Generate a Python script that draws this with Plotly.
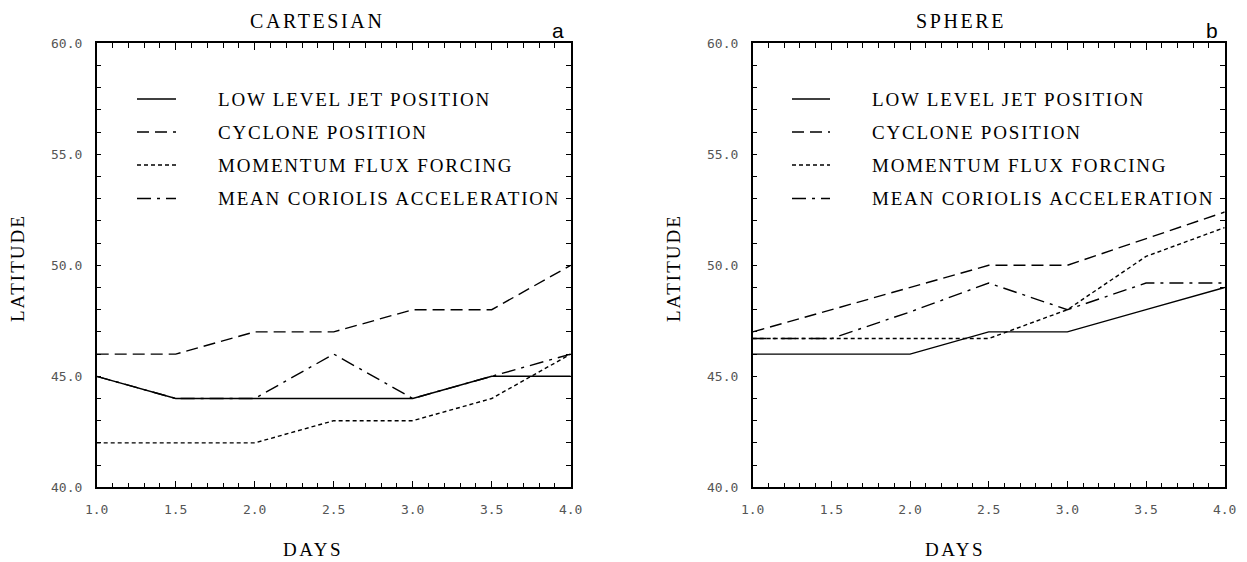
import plotly.graph_objects as go

# ---- data -------------------------------------------------------------
days = [1.0, 1.5, 2.0, 2.5, 3.0, 3.5, 4.0]

cart_jet = [45, 44, 44, 44, 44, 45, 45]
cart_cyclone = [46, 46, 47, 47, 48, 48, 50]
cart_momentum = [42, 42, 42, 43, 43, 44, 46]
cart_coriolis = [45, 44, 44, 46, 44, 45, 46]

sph_jet = [46, 46, 46, 47, 47, 48, 49]
sph_cyclone = [47, 48, 49, 50, 50, 51.2, 52.4]
sph_momentum = [46.7, 46.7, 46.7, 46.7, 48, 50.4, 51.7]
sph_coriolis = [46.7, 46.7, 47.9, 49.2, 48, 49.2, 49.2]

series_names = ["LOW LEVEL JET POSITION", "CYCLONE POSITION",
                "MOMENTUM FLUX FORCING", "MEAN CORIOLIS ACCELERATION"]
panel_titles = ["CARTESIAN", "SPHERE"]
panel_tags = ["a", "b"]
y_ticks = [40, 45, 50, 55, 60]
x_ticks = [1.0, 1.5, 2.0, 2.5, 3.0, 3.5, 4.0]

# ---- styling ----------------------------------------------------------
W, H = 1247, 562
dashes = ["solid", "12px,6px", "4px,3px", "14px,6px,3px,6px"]
SERIF = "Liberation Serif, Times New Roman, serif"


def fx(px):
    return px / W


def fy(py):
    return 1 - py / H


def spaced(s, track=1.8):
    return f'<span style="letter-spacing:{track}px">{s}</span>'


fig = go.Figure()

panels = [
    ("x", "y", [cart_jet, cart_cyclone, cart_momentum, cart_coriolis]),
    ("x2", "y2", [sph_jet, sph_cyclone, sph_momentum, sph_coriolis]),
]
for xa, ya, data in panels:
    for name, vals, dash in zip(series_names, data, dashes):
        fig.add_trace(go.Scatter(
            x=days, y=vals, xaxis=xa, yaxis=ya, mode="lines", name=name,
            line=dict(color="black", width=1.4, dash=dash),
            showlegend=False, hoverinfo="skip"))

axis_common = dict(
    showgrid=False, zeroline=False, showline=True, linecolor="black",
    linewidth=1.5, mirror="ticks", ticks="inside", tickcolor="black",
    tickwidth=1, fixedrange=True, automargin=False,
    tickfont=dict(family="DejaVu Sans Mono", size=13, color="#555"),
)

xdomains = [[fx(96.7), fx(570.7)], [fx(752.7), fx(1224.7)]]
ydomain = [fy(487.3), fy(43.3)]

for i, (xa, ya) in enumerate([("xaxis", "yaxis"), ("xaxis2", "yaxis2")]):
    anchor_x = "y" if i == 0 else "y2"
    anchor_y = "x" if i == 0 else "x2"
    fig.update_layout(**{
        xa: dict(axis_common, domain=xdomains[i], anchor=anchor_x,
                 range=[1.0, 4.0], tickvals=x_ticks,
                 ticktext=[f"{v:.1f}" for v in x_ticks],
                 ticklen=7, ticklabelstandoff=9,
                 minor=dict(dtick=0.1, tick0=1.0, ticks="inside", ticklen=5,
                            tickcolor="black", tickwidth=1)),
        ya: dict(axis_common, domain=ydomain, anchor=anchor_y,
                 range=[40, 60], tickvals=y_ticks,
                 ticktext=[f"{v:.1f}" for v in y_ticks],
                 ticklen=5, ticklabelstandoff=10,
                 minor=dict(dtick=1, tick0=40, ticks="inside", ticklen=5,
                            tickcolor="black", tickwidth=1)),
    })

annotations = []
shapes = []

# panel titles, corner tags and axis titles
title_center = [317.0, 961.0]
days_center = [313.0, 955.0]
tag_x = [557.5, 1212.0]
lat_x = [17.0, 673.0]
for i in range(2):
    annotations.append(dict(
        text=spaced(panel_titles[i], 2.6), x=fx(title_center[i]), y=fy(21),
        xref="paper", yref="paper", xanchor="center", yanchor="middle",
        showarrow=False, font=dict(family=SERIF, size=20, color="black")))
    annotations.append(dict(
        text=panel_tags[i], x=fx(tag_x[i]), y=fy(31),
        xref="paper", yref="paper", xanchor="center", yanchor="middle",
        showarrow=False,
        font=dict(family="Liberation Sans", size=21, color="black")))
    annotations.append(dict(
        text=spaced("DAYS", 2.5), x=fx(days_center[i]), y=fy(549),
        xref="paper", yref="paper", xanchor="center", yanchor="middle",
        borderpad=0, showarrow=False,
        font=dict(family=SERIF, size=19, color="black")))
    annotations.append(dict(
        text=spaced("LATITUDE", 2.0), x=fx(lat_x[i]), y=fy(268),
        xref="paper", yref="paper", xanchor="center", yanchor="middle",
        textangle=-90, showarrow=False,
        font=dict(family=SERIF, size=19, color="black")))

# legend keys inside each panel
legend_rows = [99, 132, 165, 198.5]
key_x = [(137, 176), (792, 830)]
label_x = [216, 870]
for i in range(2):
    for name, dash, row in zip(series_names, dashes, legend_rows):
        shapes.append(dict(
            type="line", xref="paper", yref="paper",
            x0=fx(key_x[i][0]), x1=fx(key_x[i][1]), y0=fy(row), y1=fy(row),
            line=dict(color="black", width=1.4, dash=dash)))
        annotations.append(dict(
            text=spaced(name), x=fx(label_x[i]), y=fy(row),
            xref="paper", yref="paper", xanchor="left", yanchor="middle",
            showarrow=False, font=dict(family=SERIF, size=19, color="black")))

fig.update_layout(
    width=W, height=H, margin=dict(l=0, r=0, t=0, b=0, autoexpand=False),
    paper_bgcolor="white", plot_bgcolor="white",
    annotations=annotations, shapes=shapes, showlegend=False,
)

# let the figure sit flush in the page
fig.write_html(
    "out.html", config={"displayModeBar": False},
    post_script="document.body.style.margin='0';"
                "document.body.style.overflow='hidden';")
